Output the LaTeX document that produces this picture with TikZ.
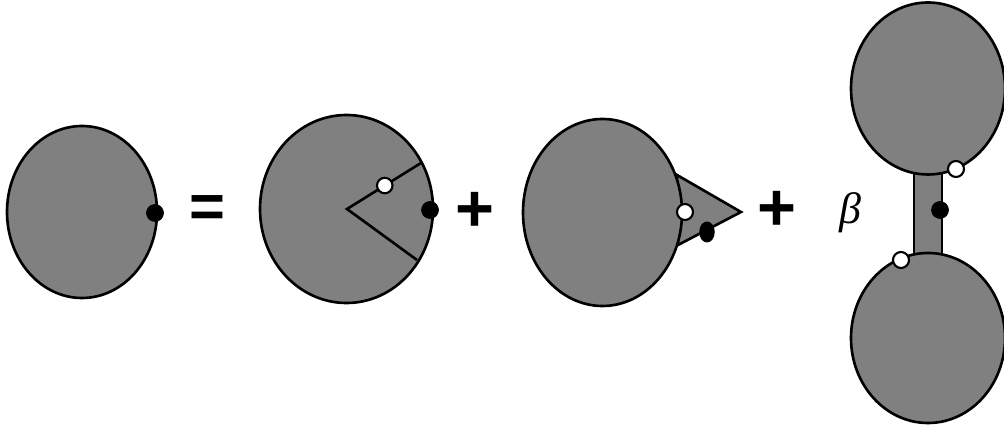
\documentclass[tikz,border=0pt]{standalone}
\usepackage{amsmath,amssymb}
\usepackage{fontspec}
\newfontfamily\opfont{Liberation Sans}
\newfontfamily\grkfont{Liberation Serif}
\usetikzlibrary{positioning,calc,shapes.geometric}

\begin{document}
\begin{tikzpicture}[x=0.02cm, y=-0.02cm,
    blob/.style={draw=black, fill=black!50, line width=1.5pt},
    blkdot/.style={circle, fill=black, draw=black, inner sep=0pt, minimum size=0.34cm},
    wdot/.style={circle, fill=white, draw=black, line width=1.2pt, inner sep=0pt, minimum size=0.31cm},
    op/.style={inner sep=0pt, font=\opfont\bfseries\fontsize{38}{40}\selectfont}]
\useasboundingbox (0,0) rectangle (1004,428);

% Left-hand side
\draw[blob] (82,212) ellipse [x radius=75, y radius=86];
\node[blkdot] (lhsdot) at (155,213) {};

\node[op, font=\opfont\bfseries\fontsize{35}{40}\selectfont] (eq) at (207,212) {=};

% First term: wedge inside the disc
\draw[blob] (346.5,209) ellipse [x radius=86.5, y radius=94];
\coordinate (apex) at (347,209);
\coordinate (rimup) at (421,163);
\coordinate (rimdown) at (417,260);
\draw[line width=1.5pt] (rimup) -- (apex) -- (rimdown);
\node[wdot] (wedgeopen) at ($(apex)!0.51!(rimup)$) {};
\node[blkdot] (wedgedot) at (430,210) {};

\node[op] (plusA) at (475,212) {+};

% Second term: disc with a triangle attached
\draw[blob] (677,175) -- (741,212) -- (678,245) -- cycle;
\draw[blob] (602.5,212.5) ellipse [x radius=79.5, y radius=93.5];
\node[wdot, minimum size=0.32cm] (tipopen) at (685,212) {};
\node[ellipse, fill=black, inner sep=0pt, minimum width=0.31cm, minimum height=0.42cm] (tipdot) at (707,232) {};

\node[op] (plusB) at (777,211) {+};

% Third term: two discs joined by a bar
\node[inner sep=0pt, font=\grkfont\itshape\fontsize{25}{27}\selectfont] (beta) at (850,213) {β};
\draw[blob] (914,170) rectangle (942,256);
\draw[blob] (928,88.5) ellipse [x radius=77, y radius=86];
\draw[blob] (928,338) ellipse [x radius=77, y radius=85];
\node[wdot, minimum size=0.32cm] (upopen) at (956,169) {};
\node[wdot, minimum size=0.32cm] (lowopen) at (901,260) {};
\node[blkdot] (bardot) at (940,210) {};
\end{tikzpicture}
\end{document}
